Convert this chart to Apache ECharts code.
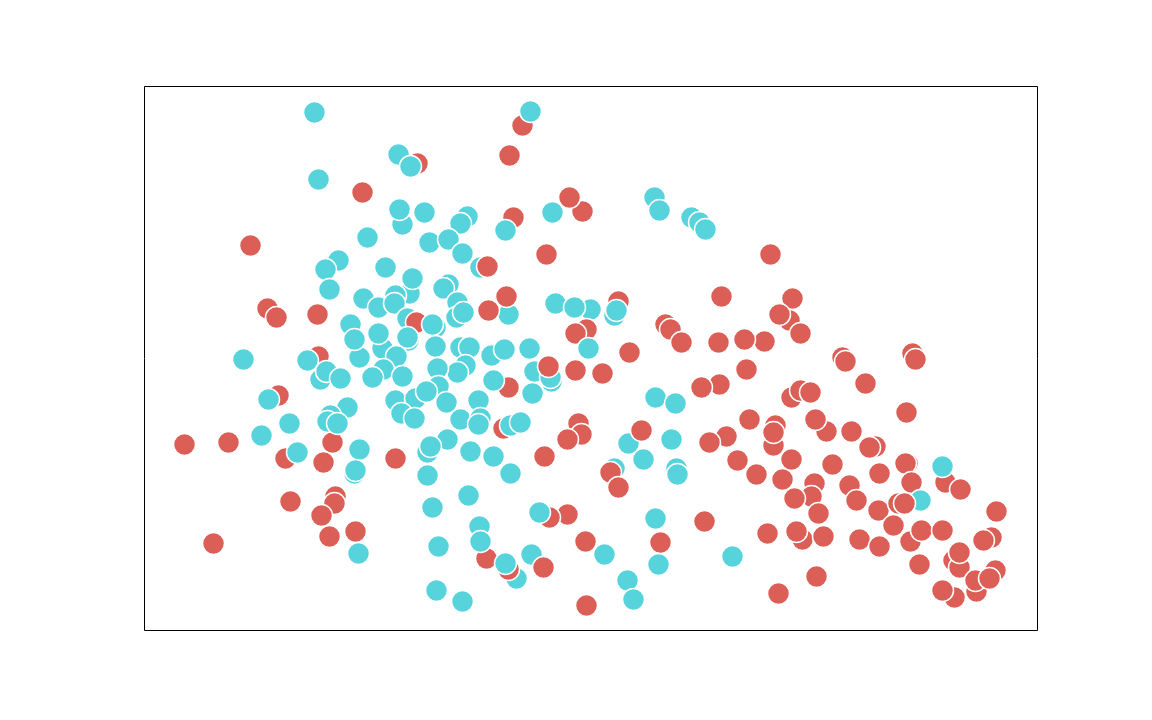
<!DOCTYPE html>
<html>
<head>
<meta charset="utf-8">
<style>
  html,body{margin:0;padding:0;background:#fff}
  #chart{width:1152px;height:720px}
</style>
</head>
<body>
<div id="chart"></div>
<script src="https://cdn.jsdelivr.net/npm/echarts@6/dist/echarts.min.js"></script>
<script>
  // points are listed in drawing order, later ones sit on top
  var xValues=[
    170,378,386,273,254,266,366,365,173,174,
    218,258,255,280,323,316,369,361,408,223,
    106,285,304,318,402,194,181,241,265,268,
    336,343,185,304,299,219,251,234,250,313,
    312,319,364,362,344,411,446,430,474,470,
    472,173,123,132,205,206,215,210,238,234,
    263,272,291,288,264,263,291,252,174,
    163,99,316,325,347,360,385,442,431,444,
    431,458,321,313,293,239,228,258,176,182,
    196,364,349,390,407,406,404,388,251,294,
    271,282,302,334,257,270,203,134,124,186,
    188,183,193,316,336,334,359,366,376,434,437,
    423,145,117,40,84,141,153,179,215,
    210,211,251,303,283,286,326,349,400,283,
    366,191,190,177,146,211,185,214,69,288,
    324,335,342,336,294,292,318,372,364,361,
    387,399,423,405,395,441,460,442,483,489,
    511,516,514,560,588,484,497,527,499,470,
    466,474,532,533,582,565,605,593,612,631,
    629,629,638,647,511,531,510,515,547,555,
    561,438,425,626,577,648,645,635,656,521,
    526,537,574,620,600,485,602,575,557,698,
    701,768,771,721,647,656,666,682,671,707,
    731,725,688,762,670,667,650,674,705,712,
    735,734,763,761,767,801,798,816,776,754,
    760,852,749,766,777,798,715,735,623,658,
    652,679,847,839,809,815,815,775,851,832,
    831,845,810,798,672,634
  ]
  var yValues=[
    518,505,519,467,476,464,474,475,451,451,
    438,406,421,418,414,407,413,400,418,393,
    385,388,391,377,376,370,361,363,337,352,
    363,364,341,346,342,332,335,323,327,328,
    313,318,316,334,320,327,321,323,329,315,
    320,316,322,313,305,306,273,291,282,297,
    312,308,303,306,290,293,284,274,274,
    270,271,283,283,275,281,282,301,297,282,
    260,257,265,258,262,261,253,254,251,259,
    252,243,250,259,249,253,264,237,230,244,
    232,239,228,230,217,212,223,235,231,215,
    188,209,207,211,212,206,202,205,208,207,196,
    191,207,195,186,188,172,178,168,181,
    157,160,172,191,178,184,179,174,174,155,
    157,134,127,115,129,99,94,77,87,123,
    135,104,72,89,84,40,29,52,61,67,
    76,63,116,113,118,89,76,25,50,31,
    112,88,66,109,74,187,200,191,171,162,
    158,143,162,156,194,188,211,170,156,205,
    185,198,151,171,233,227,433,420,413,408,
    401,419,433,376,334,332,310,316,297,306,
    301,288,288,289,291,278,261,246,243,273,
    269,277,271,247,233,240,238,199,211,199,
    184,183,166,218,147,134,132,117,145,130,
    157,120,167,167,148,148,164,141,130,127,
    127,119,105,89,100,100,91,84,97,91,
    99,94,93,90,70,63,78,66,60,39,
    50,52,33,40,54,37
  ]
  var groups=[
    1,0,1,0,1,1,0,0,1,1,
    0,1,1,1,1,1,0,1,1,1,
    0,1,1,1,0,1,1,1,1,1,
    1,0,1,1,1,1,1,1,1,1,
    1,1,1,0,0,1,1,1,0,1,
    1,0,0,0,1,1,1,1,1,1,
    1,0,1,1,1,1,1,1,0,
    1,1,1,1,1,1,1,0,0,1,
    0,0,1,1,1,1,1,1,1,1,
    1,0,1,1,1,1,0,1,1,1,
    1,1,1,1,1,1,1,0,1,1,
    0,1,1,1,1,1,0,1,1,0,0,
    0,1,1,0,0,0,1,0,1,
    1,1,0,1,1,1,1,1,0,1,
    1,0,0,0,0,0,0,1,0,1,
    1,1,0,1,1,1,1,1,0,1,
    1,0,0,0,1,0,1,0,1,1,
    1,0,1,0,1,1,0,1,1,1,
    0,0,1,1,0,0,0,0,0,0,
    0,0,0,0,1,1,1,1,1,1,
    1,0,0,0,0,0,0,0,0,0,
    0,0,0,0,0,0,0,0,0,0,
    0,0,0,0,0,0,0,0,0,0,
    0,0,0,0,0,0,0,0,0,0,
    0,0,0,0,0,0,1,0,1,0,
    0,0,0,0,0,0,0,0,0,0,
    0,0,0,0,0,0,0,0,0,0,
    0,0,0,0,0,0
  ]
  var groupColors=['#db5f57','#57d3db']

  var values=[]
  xValues.forEach(function (x,i) {
    values.push([x,yValues[i],groups[i]])
  })

  var chart=echarts.init(document.getElementById('chart'),null,{renderer:'canvas'})
  var option={
    animation:false,
    backgroundColor:'#fff',
    grid:{
      show:true,
      left:144.5,
      top:86.5,
      width:893,
      height:544,
      borderColor:'#000',
      borderWidth:1,
      backgroundColor:'#fff'
    },
    xAxis:{type:'value',min:0,max:893,show:false},
    yAxis:{type:'value',min:0,max:544,show:false},
    series:[{
      type:'scatter',
      symbolSize:22,
      clip:false,
      silent:true,
      itemStyle:{
        opacity:1,
        borderColor:'#fff',
        borderWidth:1.5,
        color:function (p) {
          return groupColors[p.value[2]]
        }
      },
      data:values
    }]
  }
  chart.setOption(option)
</script>
</body>
</html>
